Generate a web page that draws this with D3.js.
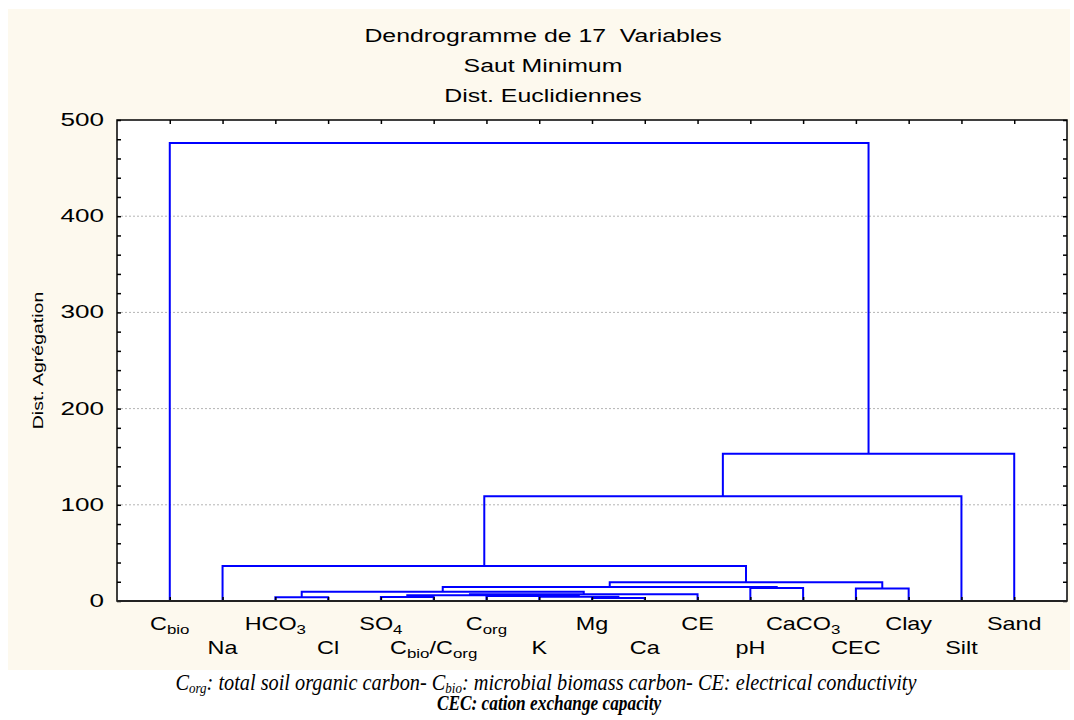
<!DOCTYPE html>
<html>
<head>
<meta charset="utf-8">
<script src="https://cdn.jsdelivr.net/npm/d3@7"></script>
<style>
  body { margin: 0; background: #fff; }
  svg { display: block; }
  text { font-family: 'Liberation Sans', Arial, sans-serif; fill: #000; white-space: pre; }
  .caption text { font-family: 'Liberation Serif', 'Times New Roman', serif; font-style: italic; }
</style>
</head>
<body>
<div class="chart"></div>
<script>
// leaves, left to right ({...} = subscript)
var leafLabels = ['C{bio}', 'Na', 'HCO{3}', 'Cl', 'SO{4}', 'C{bio}/C{org}', 'C{org}', 'K', 'Mg',
  'Ca', 'CE', 'pH', 'CaCO{3}', 'CEC', 'Clay', 'Silt', 'Sand'];

// merges (single linkage): node ids 0-16 are leaves, merge k creates node 17 + k
var mergeLeft = [8, 2, 4, 7, 6, 19, 22, 18, 13, 11, 24, 27, 1, 29, 30, 0];
var mergeRight = [9, 3, 5, 17, 20, 21, 10, 23, 14, 12, 26, 25, 28, 15, 16, 31];
var mergeHeight = [3, 4, 4.2, 4.5, 5.2, 6, 7, 9.5, 13, 13.5, 14.5, 19.5, 36.5, 109, 153, 476];

var yTicks = [0, 100, 200, 300, 400, 500];
var yMinorTicks = d3.range(0, 501, 20);
var titleLines = ['Dendrogramme de 17  Variables', 'Saut Minimum', 'Dist. Euclidiennes'];
var yLabel = 'Dist. Agrégation';
var captionLine1 = 'C{org}: total soil organic carbon- C{bio}: microbial biomass carbon- CE: electrical conductivity';
var captionLine2 = 'CEC: cation exchange capacity';

var width = 1074,
  height = 720;
var plotLeft = 117,
  plotRight = 1067,
  plotTop = 120,
  plotBottom = 601;

var svg = d3
  .select('.chart')
  .append('svg')
  .attr('width', width)
  .attr('height', height);

svg
  .append('rect')
  .attr('x', 8)
  .attr('y', 9)
  .attr('width', 1062)
  .attr('height', 661)
  .attr('fill', '#fdf9ee');

svg
  .append('rect')
  .attr('x', plotLeft)
  .attr('y', plotTop)
  .attr('width', plotRight - plotLeft)
  .attr('height', plotBottom - plotTop)
  .attr('fill', '#fff');

var xScale = d3.scaleLinear().domain([-1, leafLabels.length]).range([plotLeft, plotRight]);
var yScale = d3.scaleLinear().domain([0, 500]).range([plotBottom, plotTop]);

// add text with {sub} parts as subscripts
function richText(sel, str, subSize, shift) {
  var parts = str.split(/(\{[^}]*\})/).filter((p) => p !== '');
  var down = false;
  parts.forEach((p) => {
    var sub = p[0] === '{';
    var t = sel.append('tspan').text(sub ? p.slice(1, -1) : p);
    if (sub && !down) {
      t.attr('dy', shift).attr('font-size', subSize);
      down = true;
    } else if (sub) {
      t.attr('font-size', subSize);
    } else if (down) {
      t.attr('dy', -shift);
      down = false;
    }
  });
}

// text stretched like the original export
function wideText(x, y, sx, rot, sy) {
  return (
    'translate(' + x + ',' + y + ')' +
    (rot ? ' rotate(' + rot + ')' : '') +
    ' scale(' + sx + ',' + (sy || 1) + ')'
  );
}

// grid
svg
  .append('g')
  .selectAll('line')
  .data(yTicks.filter((d) => d > 0 && d < 500))
  .enter()
  .append('line')
  .attr('x1', plotLeft)
  .attr('x2', plotRight)
  .attr('y1', (d) => yScale(d))
  .attr('y2', (d) => yScale(d))
  .attr('stroke', '#b4b4b4')
  .attr('stroke-width', 1)
  .attr('stroke-dasharray', '2,2');

// tree nodes
var nodes = leafLabels.map((d, i) => ({ x: xScale(i), h: 0 }));
mergeLeft.forEach((a, k) => {
  var na = nodes[a],
    nb = nodes[mergeRight[k]];
  nodes.push({ x: (na.x + nb.x) / 2, h: mergeHeight[k], a: na, b: nb });
});

var merges = nodes.slice(leafLabels.length);

svg
  .append('g')
  .selectAll('path')
  .data(merges)
  .enter()
  .append('path')
  .attr('d', (d) => {
    var p = d3.path();
    p.moveTo(d.a.x, yScale(d.a.h));
    p.lineTo(d.a.x, yScale(d.h));
    p.lineTo(d.b.x, yScale(d.h));
    p.lineTo(d.b.x, yScale(d.b.h));
    return p.toString();
  })
  .attr('fill', 'none')
  .attr('stroke', '#0000ff')
  .attr('stroke-width', 2);

// axes (ticks pointing inward)
var leafIdx = d3.range(leafLabels.length);

svg
  .append('g')
  .attr('transform', 'translate(0,' + plotBottom + ')')
  .call(d3.axisBottom(xScale).tickValues(leafIdx).tickSize(-4).tickFormat(''))
  .call((g) => g.select('.domain').remove());

svg
  .append('g')
  .attr('transform', 'translate(0,' + plotTop + ')')
  .call(d3.axisTop(xScale).tickValues(leafIdx).tickSize(-4).tickFormat(''))
  .call((g) => g.select('.domain').remove());

svg
  .append('g')
  .attr('transform', 'translate(' + plotLeft + ',0)')
  .call(d3.axisLeft(yScale).tickValues(yMinorTicks).tickSize(-4).tickFormat(''))
  .call((g) => g.select('.domain').remove());

svg
  .append('g')
  .attr('transform', 'translate(' + plotRight + ',0)')
  .call(d3.axisRight(yScale).tickValues(yMinorTicks).tickSize(-4).tickFormat(''))
  .call((g) => g.select('.domain').remove());

svg.selectAll('.tick line').attr('stroke', '#000').attr('stroke-width', 1.5);

// y tick labels
svg
  .append('g')
  .selectAll('text')
  .data(yTicks)
  .enter()
  .append('text')
  .attr('transform', (d) => wideText(104, yScale(d) + 6, 1.45))
  .attr('text-anchor', 'end')
  .attr('font-size', 18)
  .text((d) => d);

// frame
svg
  .append('rect')
  .attr('x', plotLeft)
  .attr('y', plotTop)
  .attr('width', plotRight - plotLeft)
  .attr('height', plotBottom - plotTop)
  .attr('fill', 'none')
  .attr('stroke', '#000')
  .attr('stroke-width', 1.5);

svg
  .append('line')
  .attr('x1', plotLeft)
  .attr('x2', plotRight)
  .attr('y1', plotBottom)
  .attr('y2', plotBottom)
  .attr('stroke', '#222')
  .attr('stroke-width', 2);

// leaf labels, staggered in two rows
svg
  .append('g')
  .selectAll('text')
  .data(leafLabels)
  .enter()
  .append('text')
  .attr('transform', (d, i) => wideText(xScale(i), i % 2 === 0 ? 630 : 654, 1.3))
  .attr('text-anchor', 'middle')
  .attr('font-size', 18)
  .each(function (d) {
    richText(d3.select(this), d, 13, 4);
  });

// titles
svg
  .append('g')
  .selectAll('text')
  .data(titleLines)
  .enter()
  .append('text')
  .attr('transform', (d, i) => wideText(543, 42 + i * 30, 1.42))
  .attr('text-anchor', 'middle')
  .attr('font-size', 17.5)
  .text((d) => d);

svg
  .append('text')
  .attr('transform', wideText(43, (plotTop + plotBottom) / 2, 1.3, -90))
  .attr('text-anchor', 'middle')
  .attr('font-size', 15)
  .text(yLabel);

// caption
var cap = svg.append('g').attr('class', 'caption');
var c1 = cap
  .append('text')
  .attr('transform', wideText(546, 690, 1, 0, 1.1))
  .attr('text-anchor', 'middle')
  .attr('font-size', 20.3);
richText(c1, captionLine1, 13, 3);

cap
  .append('text')
  .attr('transform', wideText(549, 710, 1, 0, 1.2))
  .attr('text-anchor', 'middle')
  .attr('font-size', 17.3)
  .attr('font-weight', 'bold')
  .text(captionLine2);
</script>
</body>
</html>
